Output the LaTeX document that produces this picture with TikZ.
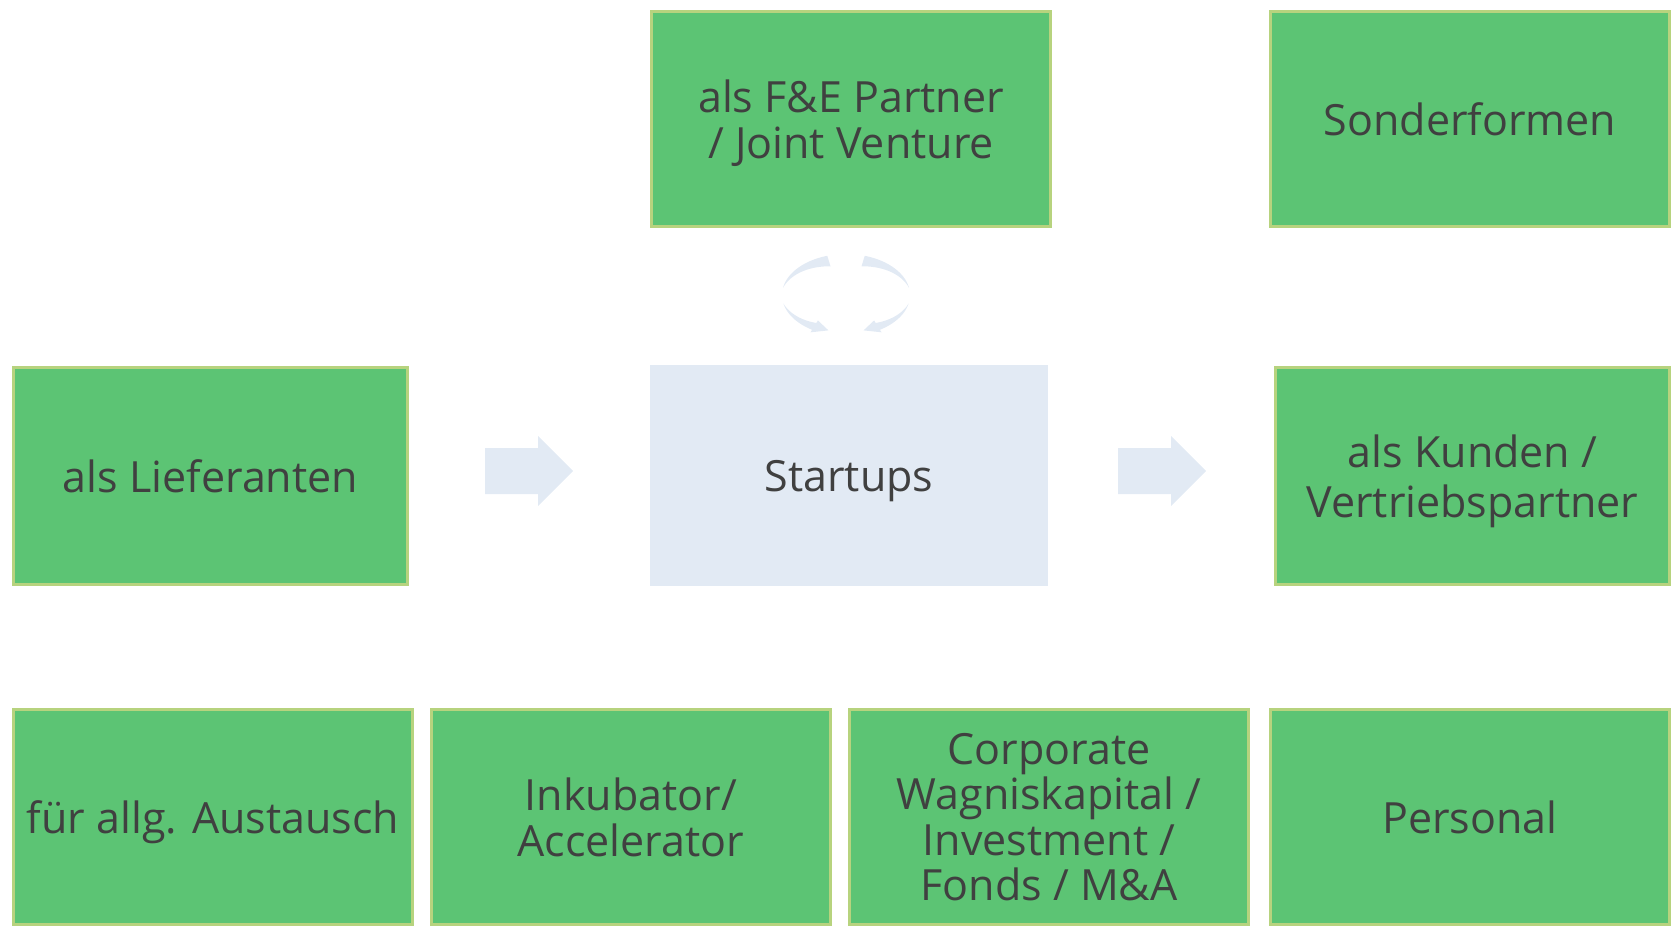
\documentclass[tikz,border=0pt]{standalone}
\usepackage{fontspec}
\setmainfont{Open Sans}
\definecolor{gfill}{HTML}{5CC474}
\definecolor{gborder}{HTML}{B7D37E}
\definecolor{bluefill}{HTML}{E2EAF4}
\definecolor{txt}{HTML}{404040}
\tikzset{
  gbox/.style={draw=gborder, fill=gfill, line width=1.5pt, text=txt,
    font=\fontsize{21.5pt}{22.75pt}\selectfont, align=center, inner sep=0pt,
    text depth=0pt, minimum width=397*0.5pt, minimum height=215*0.5pt},
  corebox/.style={fill=bluefill, text=txt,
    font=\fontsize{21.5pt}{22.75pt}\selectfont, align=center, inner sep=0pt,
    text depth=0pt, minimum width=398*0.5pt, minimum height=221*0.5pt},
  softfill/.style={fill=bluefill}
}
\begin{document}
\begin{tikzpicture}[x=0.5pt, y=-0.5pt]
\useasboundingbox (0,0) rectangle (1673,925);
\clip (0,0) rectangle (1673,925);

% top row
\node[gbox, minimum width=399*0.5pt] (fe) at (851,119) {als F\&E Partner\\/ Joint Venture};
\node[gbox, minimum width=399*0.5pt] (sonder) at (1470,119) {Sonderformen};

% middle row
\node[gbox, minimum width=394*0.5pt, minimum height=217*0.5pt] (lief) at (210.5,476) {als Lieferanten};
\node[corebox] (start) at (849,475.5) {Startups};
\node[gbox, minimum width=394*0.5pt, minimum height=217*0.5pt,
      font=\fontsize{21.5pt}{25pt}\selectfont] (kunden) at (1472.5,476) {als Kunden /\\Vertriebspartner};

% bottom row (runs past the lower edge)
\node[gbox, minimum width=399*0.5pt] (aus) at (213,817) {für allg. Austausch};
\node[gbox, minimum width=399*0.5pt] (inku) at (631,817) {Inkubator/\\Accelerator};
\node[gbox, minimum width=399*0.5pt] (cvc) at (1049,817) {Corporate\\Wagniskapital /\\Investment /\\Fonds / M\&A};
\node[gbox, minimum width=399*0.5pt] (pers) at (1470,817) {Personal};

% block arrows towards and away from the startups
\fill[softfill] (485,448) -- (538,448) -- (538,436) -- (573,471) -- (538,506) -- (538,494) -- (485,494) -- cycle;
\fill[softfill] (1118,448) -- (1171,448) -- (1171,436) -- (1206,471) -- (1171,506) -- (1171,494) -- (1118,494) -- cycle;

% circular exchange arrows between startups and R&D partner
\foreach \sx/\dx in {1/0, -1/1692}{
  \begin{scope}[shift={(\dx,0)}, xscale=\sx]
    % upper tapering arc
    \fill[softfill]
      plot[domain=107:170, samples=30] ({846+64*cos(\x)},{295-41*sin(\x)})
      -- plot[domain=170:107, samples=30]
         ({846+(64-11*(170-\x)/63)*cos(\x)},{295-(41-11*(170-\x)/63)*sin(\x)})
      -- cycle;
    % lower arc with arrow head
    \fill[softfill]
      plot[domain=192:238, samples=30] ({846+64*cos(\x)},{295-41*sin(\x)})
      -- ({846+67*cos(238)},{295-44*sin(238)})
      -- ({846+60*cos(253)},{295-37*sin(253)})
      -- ({846+53*cos(238)},{295-30*sin(238)})
      -- plot[domain=238:192, samples=30]
         ({846+(64-8*(\x-192)/46)*cos(\x)},{295-(41-8*(\x-192)/46)*sin(\x)})
      -- cycle;
  \end{scope}
}
\end{tikzpicture}
\end{document}
